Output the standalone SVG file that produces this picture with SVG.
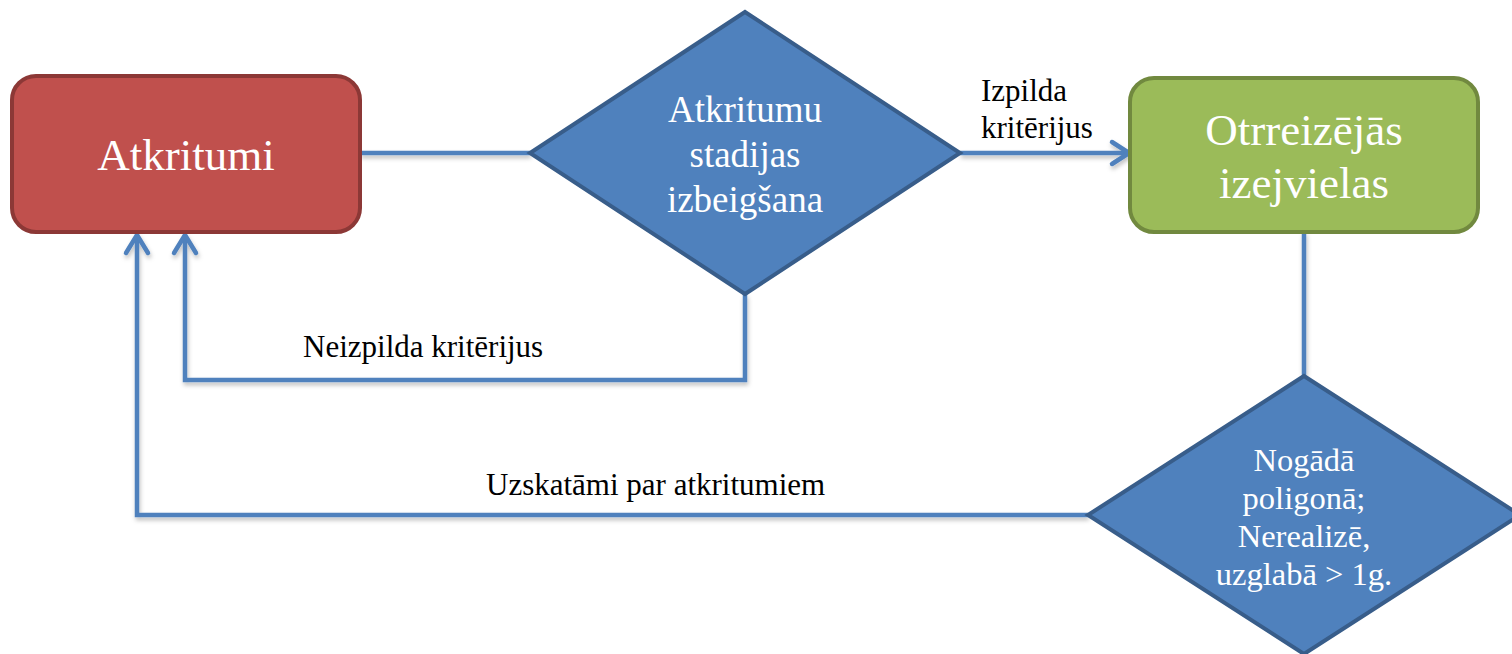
<svg xmlns="http://www.w3.org/2000/svg" width="1512" height="654" viewBox="0 0 1512 654">
<style>
.conn{fill:none;stroke:#4F81BD;stroke-width:4.5;stroke-linejoin:miter}
.head{fill:none;stroke:#4F81BD;stroke-width:4.5;stroke-linecap:round;stroke-linejoin:round}
.lbl{font-family:"Liberation Serif","Times New Roman",serif;font-size:31px;fill:#000}
.wt{font-family:"Liberation Serif","Times New Roman",serif;fill:#fff;text-anchor:middle}
</style>
<defs>
<filter id="sh" x="-5%" y="-5%" width="110%" height="110%">
<feDropShadow dx="1" dy="3" stdDeviation="2" flood-color="#000" flood-opacity="0.25"/>
</filter>
</defs>
<g id="connectors" filter="url(#sh)">
<path class="conn" d="M360,153 L530,153"/>
<path class="conn" d="M960,153 L1127,153"/>
<path class="head" d="M1112,142 L1129,153 L1112,164"/>
<path class="conn" d="M1304,232 L1304,376"/>
<path class="conn" d="M745,294 L745,380 L185,380 L185,237"/>
<path class="head" d="M174,253 L185,235 L196,253"/>
<path class="conn" d="M1088,515 L137,515 L137,237"/>
<path class="head" d="M126,253 L137,235 L148,253"/>
</g>
<g id="node-atkritumi">
<rect x="12" y="76" width="348" height="156" rx="24" fill="#C0504D" stroke="#8C3836" stroke-width="4"/>
<text class="wt" x="186" y="170" font-size="45">Atkritumi</text>
</g>
<g id="node-izbeigsana">
<polygon points="745,12 960,153 745,294 530,153" fill="#4F81BD" stroke="#385D8A" stroke-width="4"/>
<text class="wt" font-size="37"><tspan x="745" y="122">Atkritumu</tspan><tspan x="745" y="167">stadijas</tspan><tspan x="745" y="212">izbeigšana</tspan></text>
</g>
<g id="node-otrreizejas">
<rect x="1130" y="78" width="348" height="154" rx="24" fill="#9BBB59" stroke="#71893F" stroke-width="4"/>
<text class="wt" font-size="45"><tspan x="1304" y="145">Otrreizējās</tspan><tspan x="1304" y="198">izejvielas</tspan></text>
</g>
<g id="node-nogada">
<polygon points="1304,376 1520,515 1304,654 1088,515" fill="#4F81BD" stroke="#385D8A" stroke-width="4"/>
<text class="wt" font-size="32.5"><tspan x="1304" y="471">Nogādā</tspan><tspan x="1304" y="509">poligonā;</tspan><tspan x="1304" y="547">Nerealizē,</tspan><tspan x="1304" y="585">uzglabā &gt; 1g.</tspan></text>
</g>
<g id="labels">
<text class="lbl"><tspan x="981" y="101">Izpilda</tspan><tspan x="981" y="138">kritērijus</tspan></text>
<text class="lbl" x="303" y="357">Neizpilda kritērijus</text>
<text class="lbl" x="486" y="495">Uzskatāmi par atkritumiem</text>
</g>
</svg>
